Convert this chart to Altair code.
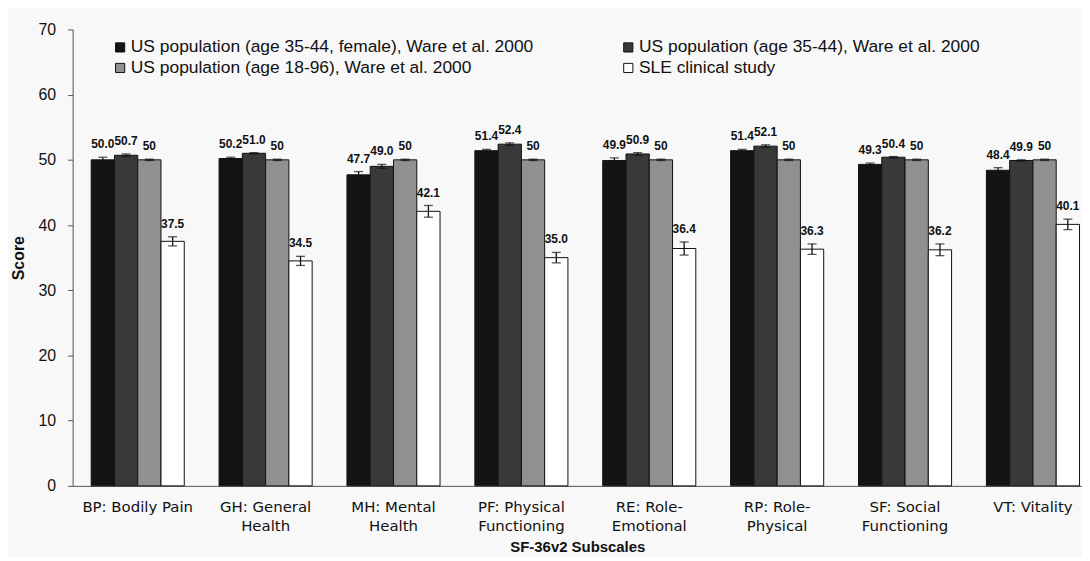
import altair as alt
import pandas as pd

categories = ["BP: Bodily Pain", "GH: General\nHealth", "MH: Mental\nHealth",
              "PF: Physical\nFunctioning", "RE: Role-\nEmotional", "RP: Role-\nPhysical",
              "SF: Social\nFunctioning", "VT: Vitality"]
series = ["US population (age 35-44, female), Ware et al. 2000",
          "US population (age 35-44), Ware et al. 2000",
          "US population (age 18-96), Ware et al. 2000",
          "SLE clinical study"]
female_3544 = [50.0, 50.2, 47.7, 51.4, 49.9, 51.4, 49.3, 48.4]
all_3544 = [50.7, 51.0, 49.0, 52.4, 50.9, 52.1, 50.4, 49.9]
all_1896 = [50, 50, 50, 50, 50, 50, 50, 50]
sle = [37.5, 34.5, 42.1, 35.0, 36.4, 36.3, 36.2, 40.1]
female_err = [0.4, 0.2, 0.5, 0.2, 0.4, 0.2, 0.2, 0.4]
all_3544_err = [0.2, 0.1, 0.3, 0.2, 0.2, 0.2, 0.1, 0.1]
all_1896_err = [0.1, 0.1, 0.1, 0.1, 0.1, 0.1, 0.1, 0.1]
sle_err = [0.7, 0.7, 0.9, 0.8, 1.0, 0.8, 0.9, 0.8]
label_formats = ["{:.1f}", "{:.1f}", "{:.0f}", "{:.1f}"]
colors = ["#141414", "#393939", "#909090", "#ffffff"]

rows = []
for s_i, (vals, errs) in enumerate([(female_3544, female_err), (all_3544, all_3544_err),
                                    (all_1896, all_1896_err), (sle, sle_err)]):
    for c_i, cat in enumerate(categories):
        v, e = vals[c_i], errs[c_i]
        rows.append({"cat": cat, "series": series[s_i], "value": v,
                     "lo": v - e, "hi": v + e,
                     "label": label_formats[s_i].format(v)})
df = pd.DataFrame(rows)

# legend fills column by column: order entries so rows read s1 s2 / s3 s4
legend_order = [series[0], series[2], series[1], series[3]]
legend_colors = [colors[0], colors[2], colors[1], colors[3]]

x_scale = alt.Scale(paddingInner=0.2722, paddingOuter=0.0824, align=0.88)
x_enc = alt.X("cat:N", sort=categories, scale=x_scale,
              axis=alt.Axis(title="SF-36v2 Subscales", labelAngle=0,
                            labelExpr="split(datum.label, '\\n')",
                            labelFont="DejaVu Sans", labelFontSize=15, labelLineHeight=19,
                            labelPadding=14, labelColor="#111", labelLimit=0,
                            ticks=False, domainColor="#555",
                            titleFont="Liberation Sans", titleFontSize=15,
                            titleFontWeight="bold", titlePadding=6, titleColor="#111"))
xo = alt.XOffset("series:N", sort=series, scale=alt.Scale(paddingInner=0, paddingOuter=0))
y_scale = alt.Scale(domain=[0, 70], nice=False)

base = alt.Chart(df)

bars = base.mark_bar(stroke="#111", strokeWidth=1).encode(
    x=x_enc, xOffset=xo,
    y=alt.Y("value:Q", stack=None, scale=y_scale,
            axis=alt.Axis(title="Score", values=list(range(0, 71, 10)), grid=False,
                          labelFont="Liberation Sans", labelFontSize=16, labelColor="#111",
                          tickSize=5, tickColor="#555", domainColor="#555",
                          labelPadding=12,
                          titleFont="Liberation Sans", titleFontSize=16,
                          titleFontWeight="bold", titlePadding=12, titleColor="#111")),
    fill=alt.Fill("series:N",
                  scale=alt.Scale(domain=legend_order, range=legend_colors),
                  legend=alt.Legend(title=None, orient="none", legendX=39, legendY=9,
                                    columns=2, columnPadding=86, rowPadding=2,
                                    symbolType="square", symbolSize=85,
                                    symbolStrokeColor="#111", symbolStrokeWidth=1,
                                    labelFont="Liberation Sans", labelFontSize=17.5,
                                    labelColor="#111", labelLimit=0, labelOffset=2)),
)

rules = base.mark_rule(color="#111", strokeWidth=1.3).encode(
    x=alt.X("cat:N", sort=categories), xOffset=xo,
    y=alt.Y("lo:Q", scale=y_scale), y2="hi:Q")

caps_hi = base.mark_tick(color="#111", thickness=1.3, size=9, orient="horizontal").encode(
    x=alt.X("cat:N", sort=categories), xOffset=xo,
    y=alt.Y("hi:Q", scale=y_scale))
caps_lo = base.mark_tick(color="#111", thickness=1.3, size=9, orient="horizontal").encode(
    x=alt.X("cat:N", sort=categories), xOffset=xo,
    y=alt.Y("lo:Q", scale=y_scale))

texts = base.mark_text(font="Liberation Sans", fontSize=12, fontWeight="bold", color="#111",
                       baseline="bottom", dy=-6).encode(
    x=alt.X("cat:N", sort=categories), xOffset=xo,
    y=alt.Y("hi:Q", scale=y_scale), text="label:N")

chart = alt.layer(bars, rules, caps_hi, caps_lo, texts).properties(
    width=1015, height=459,
    autosize=alt.AutoSizeParams(type="none"),
    padding={"left": 65, "top": 20, "right": 0, "bottom": 70},
    background="#f8f8f8",
).configure_view(stroke=None)

chart.save("out.html", embed_options={"renderer": "svg", "actions": False})
